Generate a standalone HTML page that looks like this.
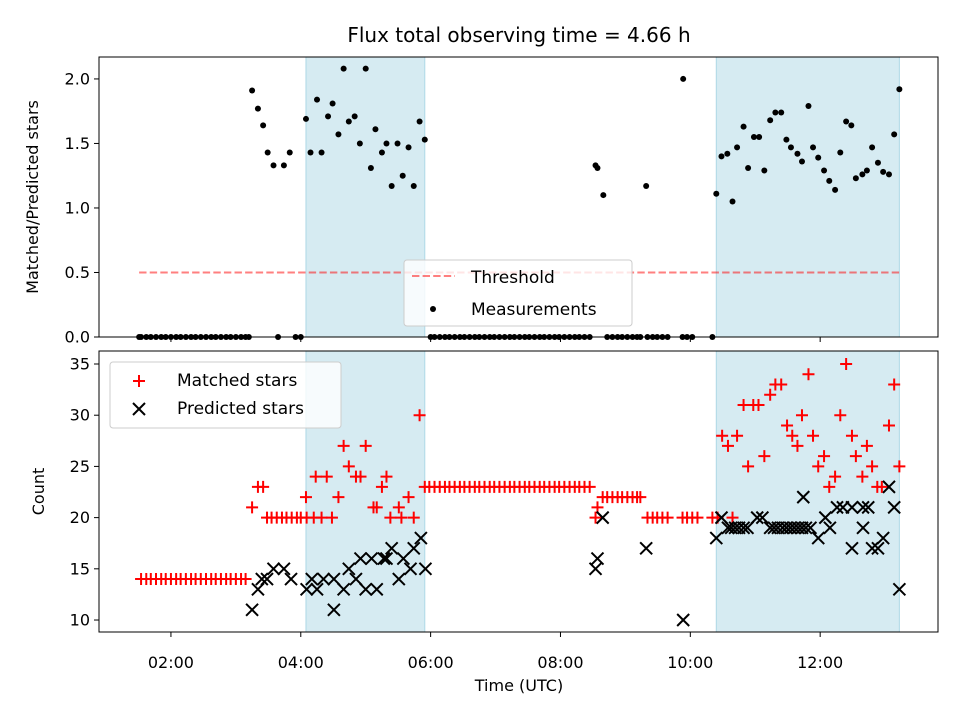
<!DOCTYPE html>
<html><head><meta charset="utf-8"><style>
body{margin:0;background:#fff}
svg{display:block;font-family:"DejaVu Sans","Liberation Sans",sans-serif}
</style></head><body>
<svg id="chart" width="960" height="720" viewBox="0 0 960 720" xmlns="http://www.w3.org/2000/svg">
<rect width="960" height="720" fill="#fff"/>
<text x="519" y="42" font-size="20" text-anchor="middle">Flux total observing time = 4.66 h</text>
<g id="topPanel"></g><g id="botPanel"></g>
</svg>
<script>
const spans=[[4.08,5.91],[10.40,13.22]];
const threshold=0.5;
const xTickHours=[2,4,6,8,10,12];
const xTickLabels=["02:00","04:00","06:00","08:00","10:00","12:00"];
const topTicks=[0,0.5,1.0,1.5,2.0];
const topTickLabels=["0.0","0.5","1.0","1.5","2.0"];
const botTicks=[10,15,20,25,30,35];
const ratioTimes=[1.51,1.54,1.62,1.69,1.77,1.85,1.92,2.00,2.08,2.15,2.23,2.31,2.38,2.46,2.54,2.62,2.69,2.77,2.85,2.92,3.00,3.08,3.15,3.20,3.65,3.92,4.00,
6.00,6.06,6.14,6.22,6.29,6.37,6.45,6.52,6.60,6.68,6.75,6.83,6.91,6.98,7.06,7.14,7.22,7.29,7.37,7.45,7.52,7.60,7.68,7.75,7.83,7.91,7.98,8.06,8.14,8.22,8.29,8.37,8.45,
8.72,8.80,8.88,8.95,9.03,9.11,9.18,9.23,9.34,9.42,9.49,9.57,9.65,9.88,9.95,10.03,10.34,
3.25,3.34,3.42,3.49,3.58,3.74,3.83,4.08,4.15,4.25,4.32,4.42,4.49,4.58,4.66,4.74,4.83,4.91,5.00,5.08,5.15,5.25,5.32,5.40,5.49,5.57,5.66,5.74,5.83,5.91,
8.54,8.57,8.66,9.32,9.89,10.40,10.48,10.57,10.65,10.72,10.82,10.89,10.98,11.06,11.14,11.23,11.31,11.40,11.48,11.55,11.65,11.72,11.82,11.89,11.97,12.06,12.14,12.23,12.31,12.40,12.48,12.55,12.65,12.72,12.80,12.89,12.97,13.06,13.14,13.22];
const ratioValues=[0,0,0,0,0,0,0,0,0,0,0,0,0,0,0,0,0,0,0,0,0,0,0,0,0,0,0,
0,0,0,0,0,0,0,0,0,0,0,0,0,0,0,0,0,0,0,0,0,0,0,0,0,0,0,0,0,0,0,0,0,
0,0,0,0,0,0,0,0,0,0,0,0,0,0,0,0,0,
1.91,1.77,1.64,1.43,1.33,1.33,1.43,1.69,1.43,1.84,1.43,1.71,1.81,1.57,2.08,1.67,1.71,1.50,2.08,1.31,1.61,1.43,1.50,1.17,1.50,1.25,1.47,1.17,1.67,1.53,
1.33,1.31,1.10,1.17,2.00,1.11,1.40,1.42,1.05,1.47,1.63,1.31,1.55,1.55,1.29,1.68,1.74,1.74,1.53,1.47,1.42,1.36,1.79,1.47,1.39,1.29,1.21,1.14,1.43,1.67,1.64,1.23,1.26,1.29,1.47,1.35,1.28,1.26,1.57,1.92];
const matchedTimes=[1.54,1.62,1.69,1.77,1.85,1.92,2.00,2.08,2.15,2.23,2.31,2.38,2.46,2.54,2.62,2.69,2.77,2.85,2.92,3.00,3.08,3.15,
3.25,3.34,3.42,3.48,3.55,3.63,3.71,3.78,3.86,3.94,4.00,4.09,4.20,4.32,4.48,
4.08,4.23,4.40,4.66,5.00,4.74,4.85,4.92,4.58,5.12,5.17,5.25,5.32,5.51,5.66,5.38,5.55,5.74,5.83,
5.91,5.98,6.06,6.14,6.22,6.29,6.37,6.45,6.52,6.60,6.68,6.75,6.83,6.91,6.98,7.06,7.14,7.22,7.29,7.37,7.45,7.52,7.60,7.68,7.75,7.83,7.91,7.98,8.06,8.14,8.22,8.29,8.37,8.45,
8.54,8.57,8.65,8.72,8.80,8.88,8.95,9.03,9.11,9.18,9.23,
9.34,9.42,9.49,9.57,9.65,9.88,9.95,10.03,10.11,10.34,10.42,10.65,
10.49,10.58,10.72,10.82,10.97,11.05,10.89,11.14,11.23,11.31,11.40,11.49,11.57,11.65,11.72,11.82,11.89,11.97,12.06,12.14,12.23,12.31,12.40,12.49,12.55,12.65,12.72,12.80,12.88,12.95,13.06,13.14,13.22];
const matchedValues=[14,14,14,14,14,14,14,14,14,14,14,14,14,14,14,14,14,14,14,14,14,14,
21,23,23,20,20,20,20,20,20,20,20,20,20,20,20,
22,24,24,27,27,25,24,24,22,21,21,23,24,21,22,20,20,20,30,
23,23,23,23,23,23,23,23,23,23,23,23,23,23,23,23,23,23,23,23,23,23,23,23,23,23,23,23,23,23,23,23,23,23,
20,21,22,22,22,22,22,22,22,22,22,
20,20,20,20,20,20,20,20,20,20,20,20,
28,27,28,31,31,31,25,26,32,33,33,29,28,27,30,34,28,25,26,23,24,30,35,28,26,24,27,25,23,23,29,33,25];
const predictedTimes=[3.25,3.34,3.40,3.48,3.58,3.74,3.85,4.09,4.17,4.25,4.35,4.51,4.51,4.66,4.74,4.85,5.00,5.17,4.92,5.09,5.28,5.32,5.40,5.51,5.58,5.69,5.74,5.85,5.92,
8.54,8.57,8.65,9.32,9.89,10.40,10.48,10.58,10.63,10.69,10.75,10.82,10.88,11.03,11.11,
11.23,11.29,11.35,11.42,11.48,11.54,11.60,11.66,11.72,11.78,11.85,
11.97,12.08,12.15,12.26,12.35,12.49,12.66,12.74,11.74,12.49,12.66,12.80,12.89,12.97,13.06,13.14,13.22];
const predictedValues=[11,13,14,14,15,15,14,13,14,13,14,11,14,13,15,14,13,13,16,16,16,16,17,14,16,15,17,18,15,
15,16,20,17,10,18,20,19,19,19,19,19,19,20,20,
19,19,19,19,19,19,19,19,19,19,19,
18,20,19,21,21,21,21,21,22,17,19,17,17,18,23,21,13];

const NS="http://www.w3.org/2000/svg";
const L=99,R=938,X0=0.892,X1=13.815;
const xs=h=>L+(h-X0)/(X1-X0)*(R-L);
const TT=57,TB=337,BT=351,BB=632;
const ty=v=>TB-(v-0)/(2.17-0)*(TB-TT);
const by=v=>BB-(v-8.83)/(36.27-8.83)*(BB-BT);
function mk(p,tag,attrs){const e=document.createElementNS(NS,tag);for(const k in attrs)e.setAttribute(k,attrs[k]);p.appendChild(e);return e;}
function panel(g,T,B,yf,ticks,labels,ylab,showX,name){
  for(const s of spans){const r=mk(g,'rect',{x:xs(s[0]),y:T,width:xs(s[1])-xs(s[0]),height:B-T,fill:'#add8e6','fill-opacity':0.5,stroke:'#add8e6','stroke-width':1});
  
  }
  ticks.forEach((t,i)=>{const y=yf(t);mk(g,'line',{x1:L-5,x2:L,y1:y,y2:y,stroke:'#000','stroke-width':1});
   const tx=mk(g,'text',{x:L-9,y:y+5.5,'font-size':16,'text-anchor':'end'});tx.textContent=labels[i];
   
   });
  xTickHours.forEach((h,i)=>{const x=xs(h);mk(g,'line',{x1:x,x2:x,y1:B,y2:B+5,stroke:'#000','stroke-width':1});
   if(showX){const tx=mk(g,'text',{x:x,y:B+36,'font-size':16,'text-anchor':'middle'});tx.textContent=xTickLabels[i];
   
   }});
  const yl=mk(g,'text',{transform:`translate(${name=='top'?38:44},${(T+B)/2}) rotate(-90)`,'font-size':16,'text-anchor':'middle'});yl.textContent=ylab;
  
  
}
function plus(g,x,y){const p=mk(g,'path',{d:`M${x-6},${y}H${x+6}M${x},${y-6}V${y+6}`,stroke:'#f00','stroke-width':2});
 
 }
function cross(g,x,y){const p=mk(g,'path',{d:`M${x-6},${y-6}L${x+6},${y+6}M${x-6},${y+6}L${x+6},${y-6}`,stroke:'#000','stroke-width':2});
 
 }
const topG=document.getElementById('topPanel'),botG=document.getElementById('botPanel');
panel(topG,TT,TB,ty,topTicks,topTickLabels,'Matched/Predicted stars',false,'top');
panel(botG,BT,BB,by,botTicks,botTicks.map(String),'Count',true,'bottom');
const th=mk(topG,'line',{x1:xs(1.51),x2:xs(13.22),y1:ty(threshold),y2:ty(threshold),stroke:'#ff0000','stroke-opacity':0.5,'stroke-width':2,'stroke-dasharray':'7.4,3.2'});


ratioTimes.forEach((t,i)=>{const c=mk(topG,'circle',{cx:xs(t),cy:ty(ratioValues[i]),r:3,fill:'#000'});
 
 });
matchedTimes.forEach((t,i)=>plus(botG,xs(t),by(matchedValues[i])));
predictedTimes.forEach((t,i)=>cross(botG,xs(t),by(predictedValues[i])));
const svgEl=document.getElementById('chart');
[[TT,TB],[BT,BB]].forEach(([T,B])=>{const f=mk(svgEl,'rect',{x:L,y:T,width:R-L,height:B-T,fill:'none',stroke:'#000','stroke-width':1});
 
 });
const lg=mk(svgEl,'g',{});


mk(lg,'rect',{x:404,y:260,width:228,height:66,rx:3,fill:'#fff','fill-opacity':0.8,stroke:'#ccc'});
mk(lg,'line',{x1:412,x2:455,y1:276,y2:276,stroke:'#f00','stroke-opacity':0.5,'stroke-width':2,'stroke-dasharray':'7.4,3.2'});
mk(lg,'circle',{cx:433,cy:309,r:3,fill:'#000'});
let t1=mk(lg,'text',{x:471,y:283,'font-size':17});t1.textContent='Threshold';
let t2=mk(lg,'text',{x:471,y:315,'font-size':17});t2.textContent='Measurements';
const lb=mk(svgEl,'g',{});


mk(lb,'rect',{x:110,y:362,width:231,height:66,rx:3,fill:'#fff','fill-opacity':0.8,stroke:'#ccc'});
plus(lb,139,381);cross(lb,139,409);
let t3=mk(lb,'text',{x:177,y:386,'font-size':17});t3.textContent='Matched stars';
let t4=mk(lb,'text',{x:177,y:414,'font-size':17});t4.textContent='Predicted stars';
const xl=mk(svgEl,'text',{x:519,y:691,'font-size':16,'text-anchor':'middle'});xl.textContent='Time (UTC)';


</script>
</body></html>
